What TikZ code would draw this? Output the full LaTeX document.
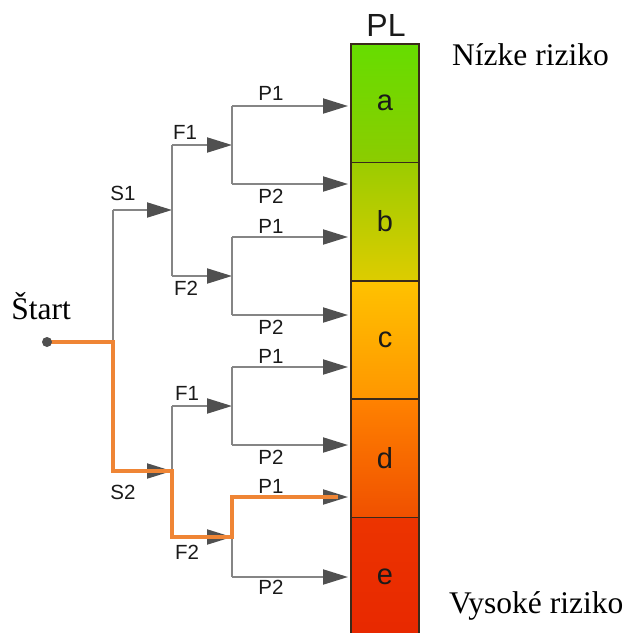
\documentclass[tikz,border=0pt]{standalone}
\usepackage{fontspec}
\setmainfont{Liberation Serif}
\setsansfont{Liberation Sans}
\usetikzlibrary{arrows.meta}
\definecolor{ln}{HTML}{858585}
\definecolor{tipc}{HTML}{505050}
\definecolor{org}{HTML}{EF8535}
\definecolor{cellline}{HTML}{3A2A1A}
\definecolor{txt}{HTML}{1A1A1A}
\begin{document}
\begin{tikzpicture}[x=1pt,y=-1pt,
  br/.style={draw=ln,line width=2pt},
  arr/.style={br,-{Triangle[length=25pt,width=15pt,color=tipc]}},
  hot/.style={draw=org,line width=3.5pt,line join=miter},
  lbl/.style={font=\sffamily\fontsize{20.5}{20.5}\selectfont,text=txt,inner sep=0pt},
  cell/.style={draw=cellline,line width=1.5pt,minimum width=68pt,minimum height=118.4pt,
    inner sep=0pt,font=\sffamily\fontsize{29}{29}\selectfont,text=txt},
  big/.style={font=\fontsize{31.5}{31.5}\selectfont,inner sep=0pt,anchor=base west}
]
\useasboundingbox (0,0) rectangle (630,633);

% PL bar
\node[cell,top color={rgb,255:red,102;green,221;blue,0},bottom color={rgb,255:red,140;green,204;blue,0}] (ca) at (385,103.2) {a};
\node[cell,top color={rgb,255:red,155;green,204;blue,0},bottom color={rgb,255:red,221;green,204;blue,0}] (cb) at (385,221.6) {b};
\node[cell,top color={rgb,255:red,255;green,194;blue,0},bottom color={rgb,255:red,255;green,150;blue,0}] (cc) at (385,340) {c};
\node[cell,top color={rgb,255:red,255;green,130;blue,0},bottom color={rgb,255:red,240;green,80;blue,0}] (cd) at (385,458.4) {d};
\node[cell,top color={rgb,255:red,236;green,52;blue,0},bottom color={rgb,255:red,232;green,40;blue,0}] (ce) at (385,576.8) {e};

\node[font=\sffamily\fontsize{32}{32}\selectfont,inner sep=0pt,anchor=base,text=txt] (pl) at (386,36) {PL};
\node[big] (low) at (452,65) {Nízke riziko};
\node[big] (high) at (449,613) {Vysoké riziko};
\node[font=\fontsize{31.5}{31.5}\selectfont,inner sep=0pt,anchor=base] (st) at (41,319) {Štart};

% coordinates
\coordinate (start) at (47,342);
\coordinate (sv) at (113,342);
\coordinate (s1) at (113,210);
\coordinate (s2) at (113,471);
\coordinate (j1) at (172,210);
\coordinate (j2) at (172,471);
\coordinate (f11) at (172,145);
\coordinate (f12) at (172,276);
\coordinate (f21) at (172,406);
\coordinate (f22) at (172,537);
\coordinate (k11) at (232,145);
\coordinate (k12) at (232,276);
\coordinate (k21) at (232,406);
\coordinate (k22) at (232,537);
\coordinate (p1) at (232,106);
\coordinate (p2) at (232,184);
\coordinate (p3) at (232,237);
\coordinate (p4) at (232,315);
\coordinate (p5) at (232,367);
\coordinate (p6) at (232,445);
\coordinate (p7) at (232,497);
\coordinate (p8) at (232,577);
\coordinate (e1) at (348,106);
\coordinate (e2) at (348,184);
\coordinate (e3) at (348,237);
\coordinate (e4) at (348,315);
\coordinate (e5) at (348,367);
\coordinate (e6) at (348,445);
\coordinate (e7) at (348,497);
\coordinate (e8) at (348,577);
\coordinate (hotend) at (338,497);

% gray tree
\draw[br] (s1) -- (s2);
\draw[arr] (s1) -- (j1);
\draw[arr] (s2) -- (j2);
\draw[br] (f11) -- (f12);
\draw[br] (f21) -- (f22);
\draw[arr] (f11) -- (k11);
\draw[arr] (f12) -- (k12);
\draw[arr] (f21) -- (k21);
\draw[arr] (f22) -- (k22);
\draw[br] (p1) -- (p2);
\draw[br] (p3) -- (p4);
\draw[br] (p5) -- (p6);
\draw[br] (p7) -- (p8);
\foreach \i in {1,...,8}{\draw[arr] (p\i) -- (e\i);}

% highlighted path
\draw[hot] (start) -- (sv) |- (j2) |- (k22) |- (hotend);
\fill[tipc] (start) circle (5pt);

% labels
\node[lbl] (ls1) at (123,193) {S1};
\node[lbl] (ls2) at (123,492) {S2};
\node[lbl] (lf1) at (185,132) {F1};
\node[lbl] (lf2) at (186,288) {F2};
\node[lbl] (lf3) at (187,393) {F1};
\node[lbl] (lf4) at (187,552) {F2};
\node[lbl] (lp1) at (271,93) {P1};
\node[lbl] (lp2) at (271,196) {P2};
\node[lbl] (lp3) at (271,226) {P1};
\node[lbl] (lp4) at (271,327) {P2};
\node[lbl] (lp5) at (271,356) {P1};
\node[lbl] (lp6) at (271,457) {P2};
\node[lbl] (lp7) at (271,486) {P1};
\node[lbl] (lp8) at (271,587) {P2};
\end{tikzpicture}
\end{document}
